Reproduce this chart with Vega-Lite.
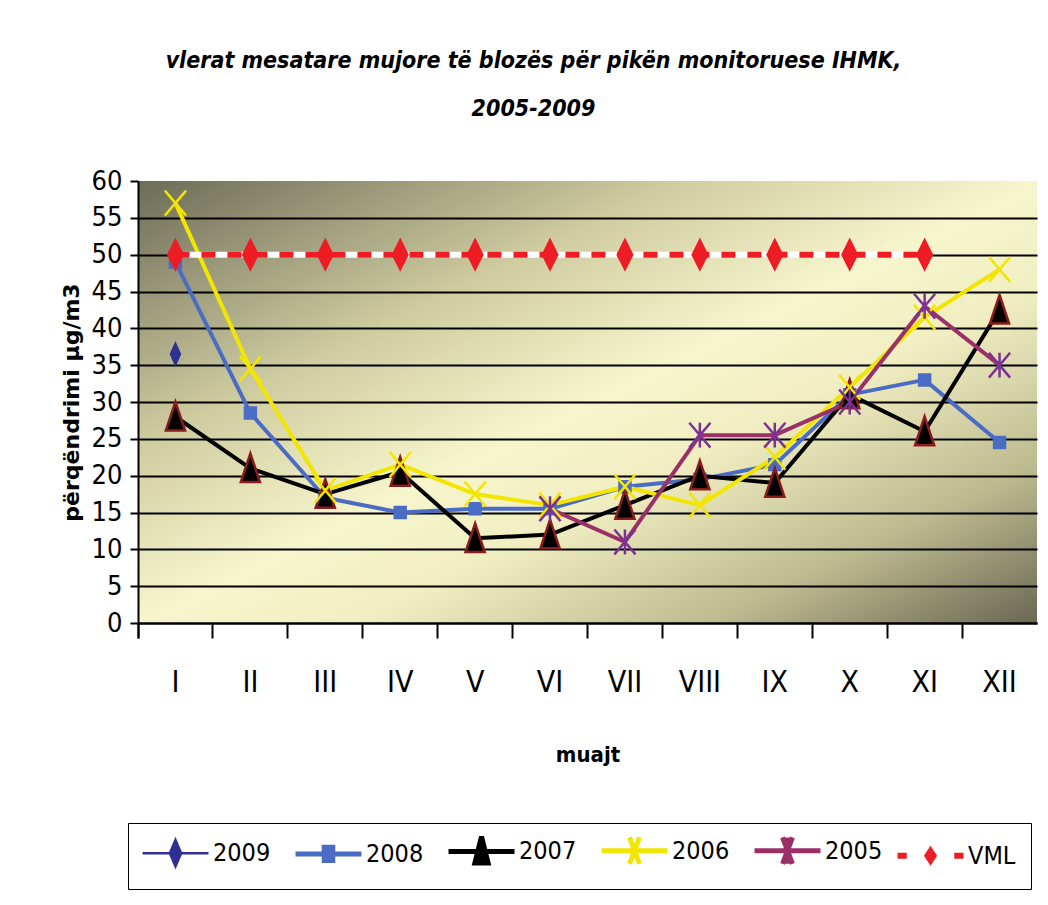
{
  "$schema": "https://vega.github.io/schema/vega-lite/v6.json",
  "width": 899,
  "height": 442,
  "autosize": {"type": "none"},
  "padding": {"left": 138, "top": 181, "right": 11, "bottom": 282},
  "background": "white",
  "title": {
    "text": ["vlerat mesatare mujore të blozës për pikën monitoruese IHMK,", "2005-2009"],
    "font": "DejaVu Sans Condensed, Liberation Sans, sans-serif",
    "fontSize": 23,
    "fontStyle": "italic",
    "fontWeight": "bold",
    "lineHeight": 48,
    "anchor": "middle",
    "dx": -54,
    "offset": 46,
    "color": "black"
  },
  "view": {
    "stroke": null,
    "fill": {
      "gradient": "linear", "x1": 0, "y1": 0, "x2": 1, "y2": 1,
      "stops": [
        {"offset": 0, "color": "#6c6c58"},
        {"offset": 0.3, "color": "#cfcca0"},
        {"offset": 0.5, "color": "#f7f5cc"},
        {"offset": 0.62, "color": "#f1eec2"},
        {"offset": 0.82, "color": "#bdba90"},
        {"offset": 1, "color": "#6a6853"}
      ]
    }
  },
  "data": {
    "values": [
      {"m": "I", "s": "2009", "v": 36.5},
      {"m": "I", "s": "2008", "v": 49},
      {"m": "II", "s": "2008", "v": 28.5},
      {"m": "III", "s": "2008", "v": 17},
      {"m": "IV", "s": "2008", "v": 15},
      {"m": "V", "s": "2008", "v": 15.5},
      {"m": "VI", "s": "2008", "v": 15.5},
      {"m": "VII", "s": "2008", "v": 18.5},
      {"m": "VIII", "s": "2008", "v": 19.5},
      {"m": "IX", "s": "2008", "v": 21.5},
      {"m": "X", "s": "2008", "v": 31},
      {"m": "XI", "s": "2008", "v": 33},
      {"m": "XII", "s": "2008", "v": 24.5},
      {"m": "I", "s": "2007", "v": 28},
      {"m": "II", "s": "2007", "v": 21},
      {"m": "III", "s": "2007", "v": 17.5},
      {"m": "IV", "s": "2007", "v": 20.5},
      {"m": "V", "s": "2007", "v": 11.5},
      {"m": "VI", "s": "2007", "v": 12},
      {"m": "VII", "s": "2007", "v": 16},
      {"m": "VIII", "s": "2007", "v": 20},
      {"m": "IX", "s": "2007", "v": 19},
      {"m": "X", "s": "2007", "v": 31},
      {"m": "XI", "s": "2007", "v": 26},
      {"m": "XII", "s": "2007", "v": 42.5},
      {"m": "I", "s": "2006", "v": 57},
      {"m": "II", "s": "2006", "v": 34.5},
      {"m": "III", "s": "2006", "v": 18},
      {"m": "IV", "s": "2006", "v": 21.5},
      {"m": "V", "s": "2006", "v": 17.5},
      {"m": "VI", "s": "2006", "v": 16},
      {"m": "VII", "s": "2006", "v": 18.5},
      {"m": "VIII", "s": "2006", "v": 16},
      {"m": "IX", "s": "2006", "v": 22.5},
      {"m": "X", "s": "2006", "v": 32},
      {"m": "XI", "s": "2006", "v": 41.5},
      {"m": "XII", "s": "2006", "v": 48},
      {"m": "VI", "s": "2005", "v": 15.5},
      {"m": "VII", "s": "2005", "v": 11},
      {"m": "VIII", "s": "2005", "v": 25.5},
      {"m": "IX", "s": "2005", "v": 25.5},
      {"m": "X", "s": "2005", "v": 30},
      {"m": "XI", "s": "2005", "v": 43},
      {"m": "XII", "s": "2005", "v": 35},
      {"m": "I", "s": "VML", "v": 50},
      {"m": "II", "s": "VML", "v": 50},
      {"m": "III", "s": "VML", "v": 50},
      {"m": "IV", "s": "VML", "v": 50},
      {"m": "V", "s": "VML", "v": 50},
      {"m": "VI", "s": "VML", "v": 50},
      {"m": "VII", "s": "VML", "v": 50},
      {"m": "VIII", "s": "VML", "v": 50},
      {"m": "IX", "s": "VML", "v": 50},
      {"m": "X", "s": "VML", "v": 50},
      {"m": "XI", "s": "VML", "v": 50}
    ]
  },
  "encoding": {
    "x": {
      "field": "m",
      "type": "ordinal",
      "sort": null,
      "scale": {"type": "band", "domain": ["I", "II", "III", "IV", "V", "VI", "VII", "VIII", "IX", "X", "XI", "XII"], "paddingInner": 0, "paddingOuter": 0},
      "axis": {
        "bandPosition": 0,
        "tickExtra": true,
        "grid": false,
        "labelAngle": 0,
        "labelFont": "DejaVu Sans Condensed, Liberation Sans, sans-serif",
        "labelFontSize": 30,
        "labelColor": "black",
        "labelPadding": 29,
        "tickSize": 15,
        "tickWidth": 2,
        "tickColor": "black",
        "domainColor": "black",
        "domainWidth": 2,
        "title": "muajt",
        "titleFont": "DejaVu Sans Condensed, Liberation Sans, sans-serif",
        "titleFontSize": 22,
        "titleFontWeight": "bold",
        "titleColor": "black",
        "titlePadding": 47
      }
    },
    "y": {
      "field": "v",
      "type": "quantitative",
      "scale": {"domain": [0, 60], "nice": false},
      "axis": {
        "values": [0, 5, 10, 15, 20, 25, 30, 35, 40, 45, 50, 55, 60],
        "grid": true,
        "gridColor": "black",
        "gridWidth": 2.2,
        "gridOpacity": {"condition": {"test": "datum.value === 60", "value": 0}, "value": 1},
        "domainColor": "black",
        "domainWidth": 2,
        "tickColor": "black",
        "tickWidth": 2,
        "tickSize": 8,
        "labelFont": "DejaVu Sans Condensed, Liberation Sans, sans-serif",
        "labelFontSize": 27,
        "labelColor": "black",
        "labelPadding": 8,
        "title": "përqëndrimi µg/m3",
        "titleFont": "DejaVu Sans",
        "titleFontSize": 22,
        "titleFontWeight": "bold",
        "titleColor": "black",
        "titlePadding": 8
      }
    }
  },
  "layer": [
    {
      "mark": {"type": "line", "strokeJoin": "round"},
      "encoding": {
        "color": {
          "field": "s",
          "type": "nominal",
          "scale": {
            "domain": ["2009", "2008", "2007", "2006", "2005", "VML"],
            "range": ["#2e3192", "#4a6cc4", "#000000", "#f2e600", "#9b3068", "#ee1c24"]
          },
          "legend": {
            "orient": "none",
            "legendX": -10,
            "legendY": 642,
            "direction": "horizontal",
            "columns": 6,
            "title": null,
            "labelFont": "DejaVu Sans Condensed, Liberation Sans, sans-serif",
            "labelFontSize": 25,
            "labelColor": "black",
            "labelOffset": 25,
            "symbolOffset": 20,
            "symbolSize": 4356,
            "columnPadding": 14,
            "padding": 15,
            "strokeColor": "black",
            "symbolOpacity": 1,
            "encoding": {
              "symbols": {
                "shape": {"value": {"expr": "datum.value === '2009' ? 'M-1,0H1M0,-0.4L0.17,0L0,0.4L-0.17,0Z' : datum.value === '2008' ? 'M-1,0H1M-0.13,-0.2H0.13V0.2H-0.13Z' : datum.value === '2007' ? 'M-1,0H1M0,-0.45L0.2,0.35H-0.2Z' : datum.value === '2006' ? 'M-1,0H1M-0.15,-0.4L0.15,0.4M-0.15,0.4L0.15,-0.4' : datum.value === '2005' ? 'M-1,0H1M-0.15,-0.4L0.15,0.4M-0.15,0.4L0.15,-0.4M0,-0.4V0.4' : 'M-1,-0.09H-0.72V0.09H-1ZM0.72,-0.09H1V0.09H0.72ZM0,-0.3L0.2,0L0,0.3L-0.2,0Z'"}},
                "fill": {"value": {"expr": "scale('color', datum.value)"}},
                "stroke": {"value": {"expr": "scale('color', datum.value)"}},
                "strokeWidth": {"value": {"expr": "datum.value === '2009' ? 2.5 : datum.value === 'VML' ? 0 : 5"}},
                "strokeDash": {"value": []},
                "opacity": {"value": 1}
              }
            }
          }
        },
        "strokeWidth": {"condition": {"test": "datum.s === '2009'", "value": 2}, "value": 4},
        "opacity": {"condition": {"test": "datum.s === 'VML'", "value": 0}, "value": 1}
      }
    },
    {
      "transform": [{"filter": "datum.s === 'VML'"}],
      "mark": {"type": "line", "color": "white", "strokeWidth": 6}
    },
    {
      "transform": [{"filter": "datum.s === 'VML'"}],
      "mark": {"type": "line", "color": "#ee1c24", "strokeWidth": 6, "strokeDash": [14, 12]}
    },
    {
      "transform": [{"filter": "datum.s === '2009'"}],
      "mark": {"type": "point", "shape": "M0,-0.85L0.38,0L0,0.85L-0.38,0Z", "size": 620, "filled": true, "fill": "#2e3192", "stroke": "#2e3192", "strokeWidth": 2, "opacity": 1}
    },
    {
      "transform": [{"filter": "datum.s === '2008'"}],
      "mark": {"type": "point", "shape": "M-0.46,-0.46H0.46V0.46H-0.46Z", "size": 620, "filled": true, "fill": "#4a6cc4", "stroke": "#4a6cc4", "strokeWidth": 2, "opacity": 1}
    },
    {
      "transform": [{"filter": "datum.s === '2007'"}],
      "mark": {"type": "point", "shape": "M0,-1.2L0.77,1.1H-0.77Z", "size": 620, "filled": true, "fill": "#000000", "stroke": "#8b1c1c", "strokeWidth": 2.5, "opacity": 1}
    },
    {
      "transform": [{"filter": "datum.s === '2006'"}],
      "mark": {"type": "point", "shape": "M-0.85,-1L0.85,1M-0.85,1L0.85,-1", "size": 620, "filled": false, "stroke": "#f2e600", "strokeWidth": 2.5, "opacity": 1}
    },
    {
      "transform": [{"filter": "datum.s === '2005'"}],
      "mark": {"type": "point", "shape": "M-0.85,-1L0.85,1M-0.85,1L0.85,-1M0,-1V1", "size": 620, "filled": false, "stroke": "#7b3294", "strokeWidth": 2.5, "opacity": 1}
    },
    {
      "transform": [{"filter": "datum.s === 'VML'"}],
      "mark": {"type": "point", "shape": "M0,-1.2L0.6,0L0,1.2L-0.6,0Z", "size": 620, "filled": true, "fill": "#ee1c24", "stroke": "#ee1c24", "strokeWidth": 2, "opacity": 1}
    }
  ]
}
